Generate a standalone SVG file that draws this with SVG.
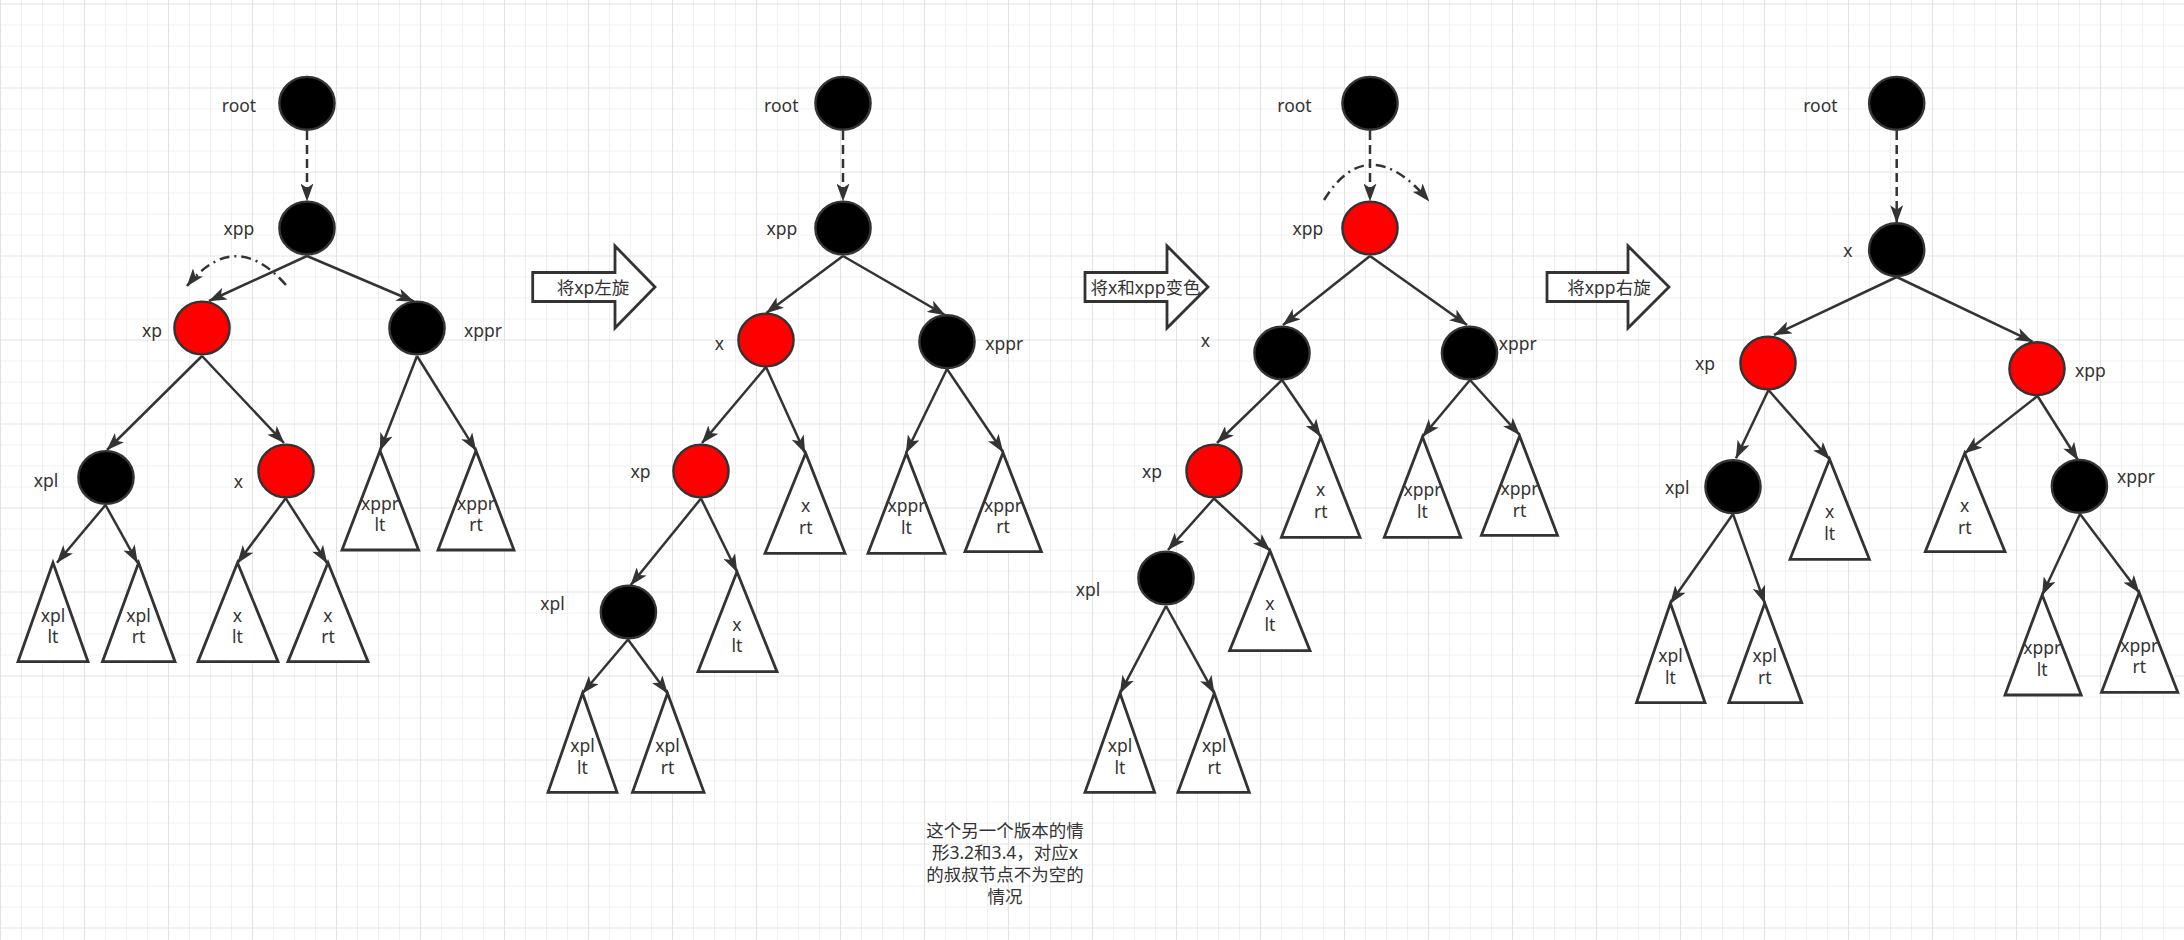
<svg xmlns="http://www.w3.org/2000/svg" width="2184" height="940" viewBox="0 0 2184 940">
<style>
.lbl{font-family:"Noto Sans","Noto Sans CJK SC",sans-serif;font-size:17.5px;fill:#333;text-anchor:middle}
.nb{fill:#000;stroke:#333;stroke-width:2.4}
.nr{fill:#ff0000;stroke:#333;stroke-width:2.4}
.tri{fill:#fff;stroke:#333;stroke-width:2.8;stroke-linejoin:miter}
.blk{fill:#fff;stroke:#333;stroke-width:2.8}
.e{stroke:#333;stroke-width:2.5;fill:none;marker-end:url(#ah)}
.d{stroke-dasharray:9 5}
.dd{stroke-dasharray:10 5 2 5}
</style>
<defs>
<pattern id="grid" patternUnits="userSpaceOnUse" x="0" y="3.5" width="84" height="84">
<path d="M21.5 0V84M42.5 0V84M63.5 0V84M0 21.5H84M0 42.5H84M0 63.5H84" stroke="#f0f0f0" stroke-width="1" fill="none"/>
<path d="M0.5 0V84M0 0.5H84" stroke="#e2e2e2" stroke-width="1" fill="none"/>
</pattern>
<marker id="ah" markerUnits="userSpaceOnUse" markerWidth="18" markerHeight="13" viewBox="0 0 18 13" refX="17.5" refY="6.5" orient="auto">
<path d="M0,0 L18,6.5 L0,13 L4.5,6.5 Z" fill="#333"/>
</marker>
</defs>
<rect width="2184" height="940" fill="#fff"/>
<rect width="2184" height="940" fill="url(#grid)"/>

<g id="connectors">
<!-- tree 1 -->
<path class="e d" d="M307 131V201"/>
<path class="e" d="M307 256L209 301"/>
<path class="e" d="M307 256L414 301.5"/>
<path class="e" d="M202 356L107 450"/>
<path class="e" d="M202 356L284 443"/>
<path class="e" d="M105.5 505L57 562.7"/>
<path class="e" d="M105.5 505L137.5 562.7"/>
<path class="e" d="M285.7 498.3L237.5 563"/>
<path class="e" d="M285.7 498.3L327 563"/>
<path class="e" d="M417 356L380 450.7"/>
<path class="e" d="M417 356L476 450.7"/>
<path class="e dd" d="M286 285Q235 227 187 286"/>
<!-- tree 2 -->
<path class="e d" d="M843 131V201"/>
<path class="e" d="M843 256L766.4 313"/>
<path class="e" d="M843 256L945 315"/>
<path class="e" d="M766 367L702 443"/>
<path class="e" d="M766 367L805 453"/>
<path class="e" d="M947 369L906 453"/>
<path class="e" d="M947 369L1003 452"/>
<path class="e" d="M701 498.5L630.7 585"/>
<path class="e" d="M701 498.5L737 571.7"/>
<path class="e" d="M628 639.5L582.5 693.3"/>
<path class="e" d="M628 639.5L667.5 693.3"/>
<!-- tree 3 -->
<path class="e d" d="M1370 131V201"/>
<path class="e" d="M1370 256L1283 325"/>
<path class="e" d="M1370 256L1467 325"/>
<path class="e" d="M1282 380L1217 443"/>
<path class="e" d="M1282 380L1320.7 436.7"/>
<path class="e" d="M1470 380L1422.5 436.7"/>
<path class="e" d="M1470 380L1519.6 435"/>
<path class="e" d="M1214 498.5L1168 550"/>
<path class="e" d="M1214 498.5L1270 550.7"/>
<path class="e" d="M1166 606L1120 693.3"/>
<path class="e" d="M1166 606L1214.3 693.3"/>
<path class="e dd" d="M1324 200Q1368 129 1429 201"/>
<!-- tree 4 -->
<path class="e d" d="M1896.7 131V222.7"/>
<path class="e" d="M1896.7 277L1774 335"/>
<path class="e" d="M1896.7 277L2032.5 341.7"/>
<path class="e" d="M1768.5 390L1736 458.3"/>
<path class="e" d="M1768.5 390L1829.6 459.3"/>
<path class="e" d="M2037.5 396L1964.7 453.3"/>
<path class="e" d="M2037.5 396L2078 460"/>
<path class="e" d="M1733 514L1670.4 603.3"/>
<path class="e" d="M1733 514L1764.8 603.3"/>
<path class="e" d="M2080 514L2042.2 595"/>
<path class="e" d="M2080 514L2139.2 592.7"/>
</g>

<!-- ===== Tree 1 ===== -->
<g id="t1-root"><ellipse class="nb" cx="307" cy="103.3" rx="27.6" ry="26.4"/><text class="lbl" x="239" y="112">root</text></g>
<g id="t1-xpp"><ellipse class="nb" cx="307" cy="228" rx="27.6" ry="26.4"/><text class="lbl" x="239" y="235">xpp</text></g>
<g id="t1-xp"><ellipse class="nr" cx="202" cy="328" rx="27.6" ry="26.4"/><text class="lbl" x="152" y="337">xp</text></g>
<g id="t1-xppr"><ellipse class="nb" cx="417" cy="328" rx="27.6" ry="26.4"/><text class="lbl" x="483" y="337">xppr</text></g>
<g id="t1-xpl"><ellipse class="nb" cx="106" cy="477.5" rx="27.6" ry="26.4"/><text class="lbl" x="46" y="486.7">xpl</text></g>
<g id="t1-x"><ellipse class="nr" cx="286" cy="471" rx="27.6" ry="26.4"/><text class="lbl" x="238.5" y="488">x</text></g>
<g id="t1-xpl-lt"><polygon class="tri" points="53,562.7 88,661.7 18,661.7"/><text class="lbl" x="53" y="621.7">xpl</text><text class="lbl" x="53" y="643.2">lt</text></g>
<g id="t1-xpl-rt"><polygon class="tri" points="138.6,562.7 175,661.7 102.5,661.7"/><text class="lbl" x="138.6" y="621.7">xpl</text><text class="lbl" x="138.6" y="643.2">rt</text></g>
<g id="t1-x-lt"><polygon class="tri" points="237.5,562.7 278,661.7 198,661.7"/><text class="lbl" x="237.5" y="621.7">x</text><text class="lbl" x="237.5" y="643.2">lt</text></g>
<g id="t1-x-rt"><polygon class="tri" points="328,562.7 368,661.7 288,661.7"/><text class="lbl" x="328" y="621.7">x</text><text class="lbl" x="328" y="643.2">rt</text></g>
<g id="t1-xppr-lt"><polygon class="tri" points="380,450.7 418.6,550 342,550"/><text class="lbl" x="380" y="509.7">xppr</text><text class="lbl" x="380" y="531.2">lt</text></g>
<g id="t1-xppr-rt"><polygon class="tri" points="476,450.7 514,550 438,550"/><text class="lbl" x="476" y="509.7">xppr</text><text class="lbl" x="476" y="531.2">rt</text></g>

<!-- step arrow 1 -->
<g id="step1"><polygon class="blk" points="532.7,272.5 615,272.5 615,246 655,287 615,328 615,301.5 532.7,301.5"/><text class="lbl" x="593" y="293.5">将xp左旋</text></g>

<!-- ===== Tree 2 ===== -->
<g id="t2-root"><ellipse class="nb" cx="843" cy="103.3" rx="27.6" ry="26.4"/><text class="lbl" x="781.3" y="112">root</text></g>
<g id="t2-xpp"><ellipse class="nb" cx="843" cy="228" rx="27.6" ry="26.4"/><text class="lbl" x="782" y="235">xpp</text></g>
<g id="t2-x"><ellipse class="nr" cx="766" cy="340" rx="27.6" ry="26.4"/><text class="lbl" x="719.3" y="350">x</text></g>
<g id="t2-xppr"><ellipse class="nb" cx="947" cy="341.7" rx="27.6" ry="26.4"/><text class="lbl" x="1004.3" y="350">xppr</text></g>
<g id="t2-xp"><ellipse class="nr" cx="701" cy="471" rx="27.6" ry="26.4"/><text class="lbl" x="640.5" y="478.3">xp</text></g>
<g id="t2-xpl"><ellipse class="nb" cx="628.4" cy="612" rx="27.6" ry="26.4"/><text class="lbl" x="552.5" y="610">xpl</text></g>
<g id="t2-x-rt"><polygon class="tri" points="805.7,453.3 845,553.3 765,553.3"/><text class="lbl" x="805.7" y="512.3">x</text><text class="lbl" x="805.7" y="533.8">rt</text></g>
<g id="t2-xppr-lt"><polygon class="tri" points="906.4,453.3 945,553.3 868,553.3"/><text class="lbl" x="906.4" y="512.3">xppr</text><text class="lbl" x="906.4" y="533.8">lt</text></g>
<g id="t2-xppr-rt"><polygon class="tri" points="1003,452.7 1041.4,551.7 965,551.7"/><text class="lbl" x="1003" y="511.7">xppr</text><text class="lbl" x="1003" y="533.2">rt</text></g>
<g id="t2-x-lt"><polygon class="tri" points="737,571.7 777,671.7 698,671.7"/><text class="lbl" x="737" y="630.7">x</text><text class="lbl" x="737" y="652.2">lt</text></g>
<g id="t2-xpl-lt"><polygon class="tri" points="582.5,693.3 617,792.3 548,792.3"/><text class="lbl" x="582.5" y="752.3">xpl</text><text class="lbl" x="582.5" y="773.8">lt</text></g>
<g id="t2-xpl-rt"><polygon class="tri" points="667.5,693.3 704,792.3 632.5,792.3"/><text class="lbl" x="667.5" y="752.3">xpl</text><text class="lbl" x="667.5" y="773.8">rt</text></g>

<!-- step arrow 2 -->
<g id="step2"><polygon class="blk" points="1085,272.5 1167,272.5 1167,246 1208,287 1167,328 1167,301.5 1085,301.5"/><text class="lbl" x="1145.5" y="293.5">将x和xpp变色</text></g>

<!-- ===== Tree 3 ===== -->
<g id="t3-root"><ellipse class="nb" cx="1370" cy="103.3" rx="27.6" ry="26.4"/><text class="lbl" x="1294.5" y="112">root</text></g>
<g id="t3-xpp"><ellipse class="nr" cx="1370" cy="228" rx="27.6" ry="26.4"/><text class="lbl" x="1307.8" y="235">xpp</text></g>
<g id="t3-x"><ellipse class="nb" cx="1282" cy="353" rx="27.6" ry="26.4"/><text class="lbl" x="1205.5" y="346.7">x</text></g>
<g id="t3-xppr"><ellipse class="nb" cx="1469.5" cy="353" rx="27.6" ry="26.4"/><text class="lbl" x="1517.7" y="350">xppr</text></g>
<g id="t3-xp"><ellipse class="nr" cx="1214" cy="471" rx="27.6" ry="26.4"/><text class="lbl" x="1152" y="478.3">xp</text></g>
<g id="t3-xpl"><ellipse class="nb" cx="1166" cy="578" rx="27.6" ry="26.4"/><text class="lbl" x="1088" y="595.7">xpl</text></g>
<g id="t3-x-rt"><polygon class="tri" points="1320.7,437.3 1360,537.3 1281.4,537.3"/><text class="lbl" x="1320.7" y="496.3">x</text><text class="lbl" x="1320.7" y="517.8">rt</text></g>
<g id="t3-xppr-lt"><polygon class="tri" points="1422.5,437 1460.7,537.3 1384.3,537.3"/><text class="lbl" x="1422.5" y="496">xppr</text><text class="lbl" x="1422.5" y="517.5">lt</text></g>
<g id="t3-xppr-rt"><polygon class="tri" points="1519.6,436 1557.5,535.3 1481.4,535.3"/><text class="lbl" x="1519.6" y="495">xppr</text><text class="lbl" x="1519.6" y="516.5">rt</text></g>
<g id="t3-x-lt"><polygon class="tri" points="1270,550.7 1310,650.7 1229.6,650.7"/><text class="lbl" x="1270" y="609.7">x</text><text class="lbl" x="1270" y="631.2">lt</text></g>
<g id="t3-xpl-lt"><polygon class="tri" points="1120,693.3 1154.6,792.3 1085,792.3"/><text class="lbl" x="1120" y="752.3">xpl</text><text class="lbl" x="1120" y="773.8">lt</text></g>
<g id="t3-xpl-rt"><polygon class="tri" points="1214.3,693.3 1249.3,792.3 1177.9,792.3"/><text class="lbl" x="1214.3" y="752.3">xpl</text><text class="lbl" x="1214.3" y="773.8">rt</text></g>

<!-- step arrow 3 -->
<g id="step3"><polygon class="blk" points="1547,272.5 1628,272.5 1628,246 1669,287 1628,328 1628,301.5 1547,301.5"/><text class="lbl" x="1609" y="293.5">将xpp右旋</text></g>

<!-- ===== Tree 4 ===== -->
<g id="t4-root"><ellipse class="nb" cx="1896.7" cy="103.3" rx="27.6" ry="26.4"/><text class="lbl" x="1820.4" y="112">root</text></g>
<g id="t4-x"><ellipse class="nb" cx="1896.7" cy="249.7" rx="27.6" ry="26.4"/><text class="lbl" x="1848" y="257.3">x</text></g>
<g id="t4-xp"><ellipse class="nr" cx="1768" cy="363" rx="27.6" ry="26.4"/><text class="lbl" x="1705" y="370">xp</text></g>
<g id="t4-xpp"><ellipse class="nr" cx="2037" cy="368.7" rx="27.6" ry="26.4"/><text class="lbl" x="2090.4" y="376.7">xpp</text></g>
<g id="t4-xpl"><ellipse class="nb" cx="1733" cy="486.7" rx="27.6" ry="26.4"/><text class="lbl" x="1677.2" y="494">xpl</text></g>
<g id="t4-xppr"><ellipse class="nb" cx="2079.4" cy="486.3" rx="27.6" ry="26.4"/><text class="lbl" x="2135.9" y="483.3">xppr</text></g>
<g id="t4-x-lt"><polygon class="tri" points="1829.6,459.3 1869.4,559.3 1790,559.3"/><text class="lbl" x="1829.6" y="518.3">x</text><text class="lbl" x="1829.6" y="539.8">lt</text></g>
<g id="t4-x-rt"><polygon class="tri" points="1964.7,453.3 2005,551.7 1925.3,551.7"/><text class="lbl" x="1964.7" y="512.3">x</text><text class="lbl" x="1964.7" y="533.8">rt</text></g>
<g id="t4-xpl-lt"><polygon class="tri" points="1670.4,603.3 1705,702.7 1636.5,702.7"/><text class="lbl" x="1670.4" y="662.3">xpl</text><text class="lbl" x="1670.4" y="683.8">lt</text></g>
<g id="t4-xpl-rt"><polygon class="tri" points="1764.8,603.3 1801.7,702.7 1728.8,702.7"/><text class="lbl" x="1764.8" y="662.3">xpl</text><text class="lbl" x="1764.8" y="683.8">rt</text></g>
<g id="t4-xppr-lt"><polygon class="tri" points="2042.2,595 2081.2,695 2005,695"/><text class="lbl" x="2042.2" y="654">xppr</text><text class="lbl" x="2042.2" y="675.5">lt</text></g>
<g id="t4-xppr-rt"><polygon class="tri" points="2139.2,592.7 2177.8,692.3 2101.5,692.3"/><text class="lbl" x="2139.2" y="651.7">xppr</text><text class="lbl" x="2139.2" y="673.2">rt</text></g>

<!-- note -->
<g id="note">
<text class="lbl" x="1005" y="837">这个另一个版本的情</text>
<text class="lbl" x="1005" y="859">形3.2和3.4，对应x</text>
<text class="lbl" x="1005" y="881">的叔叔节点不为空的</text>
<text class="lbl" x="1005" y="903">情况</text>
</g>
</svg>
